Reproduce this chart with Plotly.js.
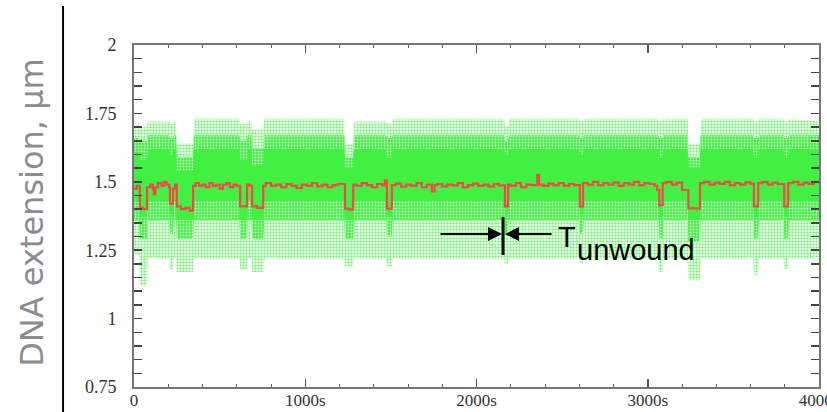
<!DOCTYPE html>
<html>
<head>
<meta charset="utf-8">
<script src="https://cdn.plot.ly/plotly-3.0.1.min.js"></script>
<style>
html,body{margin:0;padding:0;background:#fff;}
#chart{width:827px;height:412px;}
</style>
</head>
<body>
<div id="chart"></div>
<script>
// ---- tick labels ----
const xTickVals = [0, 1000, 2000, 3000, 4000];
const xTickText = ['0', '1000s', '2000s', '3000s', '4000s'];
const yTickVals = [0.75, 1, 1.25, 1.5, 1.75, 2];
const yTickText = ['0.75', '1', '1.25', '1.5', '1.75', '2'];

const cloudT = [0, 30, 34, 76, 80, 206, 210, 228, 232, 246, 250, 345, 350, 615, 620, 660, 664, 686, 690, 755, 760, 1228, 1232, 1280, 1284, 1473, 1477, 1506, 1510, 2162, 2166, 2184, 2188, 2600, 2604, 2622, 2626, 3063, 3067, 3087, 3091, 3233, 3237, 3305, 3309, 3616, 3620, 3645, 3649, 3793, 3797, 3820, 3824, 4000];
const sparseTop = [1.70, 1.71, 1.70, 1.70, 1.72, 1.72, 1.71, 1.71, 1.72, 1.72, 1.64, 1.64, 1.73, 1.73, 1.71, 1.71, 1.72, 1.72, 1.69, 1.69, 1.73, 1.73, 1.64, 1.64, 1.72, 1.72, 1.71, 1.71, 1.73, 1.73, 1.70, 1.70, 1.73, 1.73, 1.72, 1.72, 1.73, 1.73, 1.72, 1.72, 1.73, 1.73, 1.64, 1.64, 1.73, 1.73, 1.72, 1.72, 1.73, 1.73, 1.72, 1.72, 1.73, 1.72];
const denseTop  = [1.66, 1.66, 1.65, 1.65, 1.67, 1.67, 1.66, 1.66, 1.67, 1.67, 1.59, 1.59, 1.67, 1.67, 1.65, 1.65, 1.67, 1.67, 1.62, 1.62, 1.67, 1.67, 1.59, 1.59, 1.67, 1.67, 1.66, 1.66, 1.67, 1.67, 1.65, 1.65, 1.67, 1.67, 1.66, 1.66, 1.67, 1.67, 1.66, 1.66, 1.67, 1.67, 1.59, 1.59, 1.67, 1.67, 1.66, 1.66, 1.67, 1.67, 1.66, 1.66, 1.67, 1.67];
const coreTop   = [1.61, 1.61, 1.58, 1.58, 1.62, 1.62, 1.60, 1.60, 1.62, 1.62, 1.54, 1.54, 1.62, 1.62, 1.58, 1.58, 1.62, 1.62, 1.56, 1.56, 1.62, 1.62, 1.55, 1.55, 1.62, 1.62, 1.59, 1.59, 1.62, 1.62, 1.60, 1.60, 1.62, 1.62, 1.60, 1.60, 1.62, 1.62, 1.59, 1.59, 1.62, 1.62, 1.55, 1.55, 1.62, 1.62, 1.59, 1.59, 1.62, 1.62, 1.59, 1.59, 1.62, 1.62];
const coreBot   = [1.43, 1.43, 1.37, 1.37, 1.43, 1.43, 1.38, 1.38, 1.43, 1.43, 1.36, 1.36, 1.43, 1.43, 1.36, 1.36, 1.43, 1.43, 1.36, 1.36, 1.43, 1.43, 1.36, 1.36, 1.43, 1.43, 1.37, 1.37, 1.43, 1.43, 1.38, 1.38, 1.43, 1.43, 1.38, 1.38, 1.43, 1.43, 1.37, 1.37, 1.43, 1.43, 1.36, 1.36, 1.43, 1.43, 1.37, 1.37, 1.43, 1.43, 1.37, 1.37, 1.43, 1.43];
const denseBot  = [1.36, 1.36, 1.29, 1.29, 1.36, 1.36, 1.31, 1.31, 1.36, 1.36, 1.29, 1.29, 1.36, 1.36, 1.29, 1.29, 1.36, 1.36, 1.29, 1.29, 1.36, 1.36, 1.29, 1.29, 1.36, 1.36, 1.30, 1.30, 1.36, 1.36, 1.31, 1.31, 1.36, 1.36, 1.31, 1.31, 1.36, 1.36, 1.29, 1.29, 1.36, 1.36, 1.28, 1.28, 1.36, 1.36, 1.29, 1.29, 1.36, 1.36, 1.29, 1.29, 1.36, 1.36];
const sparseBot = [1.24, 1.23, 1.12, 1.12, 1.22, 1.22, 1.18, 1.18, 1.22, 1.22, 1.17, 1.17, 1.22, 1.22, 1.18, 1.18, 1.22, 1.22, 1.17, 1.17, 1.22, 1.22, 1.19, 1.19, 1.22, 1.22, 1.19, 1.19, 1.22, 1.22, 1.20, 1.20, 1.22, 1.22, 1.20, 1.20, 1.22, 1.22, 1.17, 1.17, 1.22, 1.22, 1.14, 1.14, 1.22, 1.22, 1.16, 1.16, 1.22, 1.22, 1.18, 1.18, 1.22, 1.22];

// ---- red filtered trace (step values, time s) ----
const redT = [0, 15, 34, 52, 76, 95, 110, 116, 124, 140, 160, 175, 190, 205, 210, 228, 240, 250, 275, 300, 325, 345, 360, 380, 400, 420, 440, 460, 480, 500, 520, 540, 560, 580, 600, 620, 660, 675, 690, 720, 755, 770, 800, 830, 860, 890, 920, 950, 980, 1010, 1040, 1070, 1100, 1130, 1160, 1190, 1232, 1255, 1280, 1300, 1330, 1360, 1390, 1420, 1450, 1465, 1477, 1506, 1530, 1560, 1590, 1620, 1650, 1680, 1710, 1740, 1755, 1770, 1800, 1830, 1860, 1890, 1920, 1950, 1980, 2010, 2040, 2070, 2100, 2130, 2166, 2184, 2200, 2230, 2260, 2290, 2320, 2355, 2365, 2390, 2420, 2450, 2480, 2510, 2540, 2570, 2604, 2622, 2650, 2680, 2710, 2740, 2770, 2800, 2830, 2860, 2890, 2920, 2950, 2980, 3010, 3040, 3055, 3067, 3087, 3110, 3140, 3170, 3200, 3220, 3237, 3305, 3330, 3360, 3390, 3420, 3450, 3480, 3510, 3540, 3570, 3600, 3620, 3645, 3670, 3700, 3730, 3760, 3797, 3820, 3850, 3880, 3910, 3940, 3970, 4000];
const redV = [1.475, 1.485, 1.405, 1.400, 1.480, 1.490, 1.475, 1.455, 1.480, 1.495, 1.485, 1.500, 1.490, 1.480, 1.420, 1.475, 1.490, 1.410, 1.400, 1.405, 1.395, 1.485, 1.495, 1.485, 1.490, 1.480, 1.495, 1.485, 1.490, 1.475, 1.490, 1.495, 1.480, 1.490, 1.485, 1.410, 1.490, 1.485, 1.410, 1.405, 1.485, 1.495, 1.485, 1.490, 1.480, 1.492, 1.485, 1.478, 1.490, 1.485, 1.495, 1.483, 1.490, 1.480, 1.488, 1.492, 1.402, 1.398, 1.490, 1.485, 1.495, 1.488, 1.480, 1.492, 1.487, 1.505, 1.402, 1.488, 1.493, 1.482, 1.490, 1.485, 1.495, 1.480, 1.490, 1.465, 1.488, 1.492, 1.483, 1.490, 1.487, 1.495, 1.480, 1.488, 1.493, 1.485, 1.490, 1.482, 1.492, 1.487, 1.410, 1.490, 1.485, 1.495, 1.480, 1.490, 1.488, 1.525, 1.490, 1.485, 1.493, 1.488, 1.495, 1.485, 1.492, 1.488, 1.410, 1.495, 1.490, 1.500, 1.488, 1.495, 1.490, 1.498, 1.485, 1.495, 1.490, 1.500, 1.488, 1.495, 1.492, 1.485, 1.470, 1.415, 1.495, 1.500, 1.490, 1.497, 1.470, 1.470, 1.403, 1.495, 1.500, 1.490, 1.497, 1.492, 1.500, 1.488, 1.495, 1.490, 1.498, 1.493, 1.410, 1.495, 1.500, 1.490, 1.497, 1.492, 1.410, 1.495, 1.500, 1.490, 1.497, 1.492, 1.500, 1.495, 1.495];

const green = '#41f041';
function edge(y) {
  return {x: cloudT, y: y, type: 'scatter', mode: 'lines', line: {width: 0, color: green}, hoverinfo: 'skip', showlegend: false};
}
const traces = [
  edge(sparseBot),
  Object.assign(edge(sparseTop), {fill: 'tonexty', fillcolor: 'rgba(255,255,255,0)',
    fillpattern: {shape: '.', fgcolor: '#70ee70', bgcolor: 'rgba(190,250,190,0.35)', size: 3, solidity: 0.4, fillmode: 'replace'}}),
  edge(denseBot),
  Object.assign(edge(denseTop), {fill: 'tonexty', fillcolor: green,
    fillpattern: {shape: '.', fgcolor: '#d8fcd8', bgcolor: green, size: 3, solidity: 0.3, fillmode: 'replace'}}),
  edge(coreBot),
  Object.assign(edge(coreTop), {fill: 'tonexty', fillcolor: green}),
  {x: redT, y: redV, type: 'scatter', mode: 'lines', line: {color: '#f24848', width: 2.2, shape: 'hv'}, hoverinfo: 'skip', showlegend: false}
];

const yTickFont = {family: 'Times New Roman', size: 18, color: '#333'};
const xTickFont = {family: 'Times New Roman', size: 17, color: '#333'};
const layout = {
  width: 827, height: 412,
  margin: {l: 134, r: 8, t: 45, b: 25},
  paper_bgcolor: '#fff', plot_bgcolor: 'rgba(0,0,0,0)',
  showlegend: false,
  font: {family: 'Liberation Sans'},
  xaxis: {
    range: [0, 4000], tickvals: xTickVals, ticktext: xTickText,
    ticks: 'inside', ticklen: 8, tickwidth: 1.5, tickcolor: '#555',
    minor: {tick0: 0, dtick: 200, ticks: 'inside', ticklen: 3, tickwidth: 1, tickcolor: '#666'},
    showline: true, linecolor: '#777', linewidth: 2, mirror: 'ticks',
    showgrid: false, zeroline: false, tickfont: xTickFont, ticklabelstandoff: -3,
    ticklabeloverflow: 'allow'
  },
  yaxis: {
    range: [0.75, 2], tickvals: yTickVals, ticktext: yTickText,
    ticks: 'inside', ticklen: 8, tickwidth: 1.5, tickcolor: '#444',
    minor: {tick0: 0.75, dtick: 0.05, ticks: 'inside', ticklen: 8, tickwidth: 1.5, tickcolor: '#444'},
    showline: true, linecolor: '#777', linewidth: 2, mirror: 'ticks',
    showgrid: false, zeroline: false, tickfont: yTickFont, ticklabelstandoff: 12
  },
  shapes: [
    {type: 'line', xref: 'paper', yref: 'paper', x0: -0.1036, x1: -0.1036, y0: 1.114, y1: -0.08, line: {color: '#000', width: 2}},
    {type: 'line', xref: 'x', yref: 'y', x0: 2155, x1: 2155, y0: 1.371, y1: 1.2325, line: {color: '#000', width: 3}}
  ],
  annotations: [
    {xref: 'paper', yref: 'paper', x: -0.149, y: 0.512, text: 'DNA extension, µm', textangle: -90, showarrow: false,
      xanchor: 'center', yanchor: 'middle', font: {family: 'DejaVu Sans', size: 32, color: '#8c8c8c'}},
    {xref: 'x', yref: 'y', axref: 'x', ayref: 'y', x: 2149, y: 1.309, ax: 1781, ay: 1.309, text: '', showarrow: true,
      arrowhead: 2, arrowsize: 1.4, arrowwidth: 2, arrowcolor: '#000'},
    {xref: 'x', yref: 'y', axref: 'x', ayref: 'y', x: 2166, y: 1.309, ax: 2447, ay: 1.309, text: '', showarrow: true,
      arrowhead: 2, arrowsize: 1.4, arrowwidth: 2, arrowcolor: '#000'},
    {xref: 'x', yref: 'y', x: 2466, y: 1.30, text: 'T', showarrow: false, xanchor: 'left', yanchor: 'middle',
      font: {family: 'Liberation Sans', size: 29, color: '#000'}},
    {xref: 'x', yref: 'y', x: 2575, y: 1.252, text: 'unwound', showarrow: false, xanchor: 'left', yanchor: 'middle',
      font: {family: 'Liberation Sans', size: 29, color: '#000'}}
  ]
};

Plotly.newPlot('chart', traces, layout, {staticPlot: true, displayModeBar: false});
</script>
</body>
</html>
